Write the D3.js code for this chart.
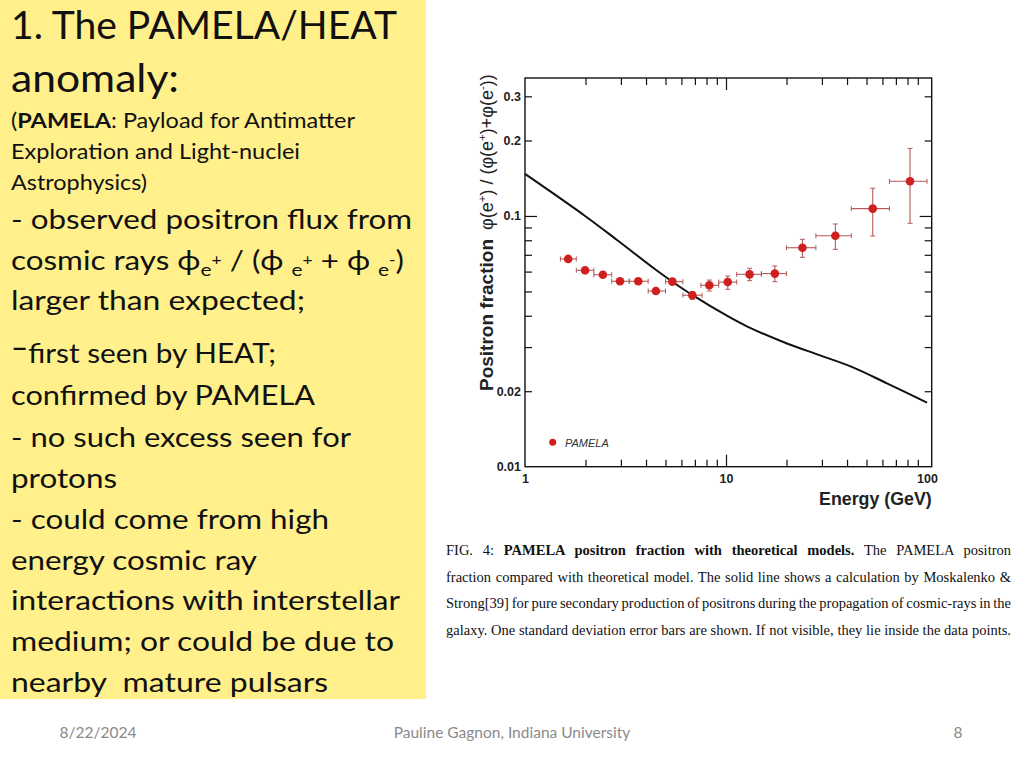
<!DOCTYPE html>
<html>
<head>
<meta charset="utf-8">
<title>PAMELA positron fraction</title>
<script src="https://d3js.org/d3.v7.min.js"></script>
<style>
  body { margin: 0; background: #fff; }
</style>
</head>
<body>
<div id="chart"></div>
<script>
// PAMELA positron fraction
var energy   = [1.64, 1.99, 2.44, 2.97, 3.66, 4.48, 5.41, 6.80, 8.26, 10.2, 13.1, 17.5, 24.0, 35.0, 53.7, 82.3];
var binLow   = [1.5, 1.8, 2.2, 2.7, 3.3, 4.1, 5.0, 6.1, 7.5, 9.2, 11.3, 15.0, 20.0, 28.0, 42.0, 65.0];
var binHigh  = [1.8, 2.2, 2.7, 3.3, 4.1, 5.0, 6.1, 7.6, 9.2, 11.3, 15.0, 20.0, 28.0, 42.0, 65.0, 100];
var fraction = [0.0674, 0.0607, 0.0583, 0.0549, 0.0549, 0.0502, 0.0547, 0.0483, 0.0529, 0.0545, 0.0585, 0.0589, 0.0747, 0.0834, 0.107, 0.1375];
var fracLow  = [0.0660, 0.0594, 0.0570, 0.0537, 0.0537, 0.0490, 0.0533, 0.0465, 0.0502, 0.0510, 0.0552, 0.0547, 0.0684, 0.0736, 0.0832, 0.0935];
var fracHigh = [0.0689, 0.0621, 0.0597, 0.0562, 0.0562, 0.0515, 0.0561, 0.0499, 0.0555, 0.0576, 0.0619, 0.0632, 0.0807, 0.0929, 0.129, 0.186];

// Moskalenko & Strong secondary production curve
var modelE    = [1, 1.99, 2.87, 4.44, 5.39, 6.85, 10.1, 12.7, 20.1, 29.4, 42.8, 63.2, 100];
var modelFrac = [0.1471, 0.1000, 0.0802, 0.0613, 0.0548, 0.0482, 0.0400, 0.0363, 0.0310, 0.0278, 0.0249, 0.0215, 0.0180];

var xMajor = [1, 10, 100];
var xMinor = [2, 3, 4, 5, 6, 7, 8, 9, 20, 30, 40, 50, 60, 70, 80, 90];
var yLabels = [0.01, 0.02, 0.1, 0.2, 0.3];
var yMinor = [0.02, 0.03, 0.04, 0.05, 0.06, 0.07, 0.08, 0.09, 0.2, 0.3];

var width = 1024, height = 768;

var svg = d3.select("#chart")
  .append("svg")
    .attr("width", width)
    .attr("height", height)
    .style("font-family", "'Liberation Sans', Arial, sans-serif");

// ---- left yellow text panel ----
svg.append("rect")
  .attr("x", 0).attr("y", 0)
  .attr("width", 426).attr("height", 699)
  .attr("fill", "#fff08c");

var panelFont = "Lato, 'Open Sans', sans-serif";

var lines = [
  { t: "1. The PAMELA/HEAT", y: 39, size: 38, w: 386 },
  { t: "anomaly:", y: 92, size: 38, w: 168 },
  { t: "Exploration and Light-nuclei", y: 159, size: 21, w: 289 },
  { t: "Astrophysics)", y: 190, size: 21, w: 136 },
  { t: "- observed positron flux from", y: 229, size: 27, w: 401 },
  { t: "larger than expected;", y: 310, size: 27, w: 294 },
  { t: "confirmed by PAMELA", y: 405, size: 27, w: 304 },
  { t: "- no such excess seen for", y: 447, size: 27, w: 340 },
  { t: "protons", y: 488, size: 27, w: 106 },
  { t: "- could come from high", y: 529, size: 27, w: 318 },
  { t: "energy cosmic ray", y: 570, size: 27, w: 246 },
  { t: "interactions with interstellar", y: 610, size: 27, w: 389 },
  { t: "medium; or could be due to", y: 651, size: 27, w: 383 },
  { t: "nearby  mature pulsars", y: 692, size: 27, w: 317 }
];

var panel = svg.append("g").style("font-family", panelFont).attr("fill", "#111");

panel.selectAll("text.line")
  .data(lines)
  .enter()
  .append("text")
    .attr("class", "line")
    .attr("x", 11)
    .attr("y", function(d) { return d.y; })
    .style("font-size", function(d) { return d.size + "px"; })
    .style("white-space", "pre")
    .attr("textLength", function(d) { return d.w; })
    .attr("lengthAdjust", "spacingAndGlyphs")
    .text(function(d) { return d.t; });

// (PAMELA: ...) line with bold acronym
var l3 = panel.append("text")
  .attr("x", 11).attr("y", 128)
  .style("font-size", "21px")
  .attr("textLength", 344)
  .attr("lengthAdjust", "spacingAndGlyphs");
l3.append("tspan").text("(");
l3.append("tspan").style("font-weight", "bold").text("PAMELA");
l3.append("tspan").text(": Payload for Antimatter");

// cosmic rays phi line with sub/superscripts
var l7 = panel.append("text")
  .attr("x", 11).attr("y", 270)
  .style("font-size", "27px")
  .style("white-space", "pre")
  .attr("textLength", 393)
  .attr("lengthAdjust", "spacingAndGlyphs");
var l7parts = [
  { t: "cosmic rays \u03d5", dy: 0 },
  { t: "e", dy: 6, s: 18 }, { t: "+", dy: -11, s: 15 },
  { t: " / (\u03d5 ", dy: 5 },
  { t: "e", dy: 6, s: 18 }, { t: "+", dy: -11, s: 15 },
  { t: " + \u03d5 ", dy: 5 },
  { t: "e", dy: 6, s: 18 }, { t: "-", dy: -11, s: 15 },
  { t: ")", dy: 5 }
];
l7parts.forEach(function(p) {
  var ts = l7.append("tspan").attr("dy", p.dy).text(p.t);
  if (p.s) ts.style("font-size", p.s + "px");
});

// -first seen by HEAT; (raised dash)
var l9 = panel.append("text")
  .attr("x", 11).attr("y", 363)
  .style("font-size", "27px")
  .attr("textLength", 265)
  .attr("lengthAdjust", "spacingAndGlyphs");
l9.append("tspan").attr("dy", -6).style("font-weight", "bold").text("\u2013");
l9.append("tspan").attr("dy", 6).text("first seen by HEAT;");

// ---- plot ----
var plotL = 525, plotR = 931.7, plotT = 78, plotB = 466.7;

var x = d3.scaleLog().domain([1, 105.5]).range([plotL, plotR]);
var y = d3.scaleLog().domain([0.01, 0.355]).range([plotB, plotT]);

var axisColor = "#111";

function tickAxis(axis, tr, size, vals) {
  var g = svg.append("g")
    .attr("transform", tr)
    .call(axis.tickValues(vals).tickSize(size).tickFormat(""));
  g.select(".domain").remove();
  g.selectAll("line").attr("stroke", axisColor).attr("stroke-width", 1.2);
  return g;
}

// inward ticks on all four sides
tickAxis(d3.axisBottom(x), "translate(0," + plotB + ")", -7, xMinor);
tickAxis(d3.axisBottom(x), "translate(0," + plotB + ")", -12, [10]);
tickAxis(d3.axisTop(x), "translate(0," + plotT + ")", -7, xMinor);
tickAxis(d3.axisTop(x), "translate(0," + plotT + ")", -12, [10]);
tickAxis(d3.axisLeft(y), "translate(" + plotL + ",0)", -7, yMinor);
tickAxis(d3.axisLeft(y), "translate(" + plotL + ",0)", -12, [0.1]);
tickAxis(d3.axisRight(y), "translate(" + plotR + ",0)", -7, yMinor);
tickAxis(d3.axisRight(y), "translate(" + plotR + ",0)", -12, [0.1]);

// tick labels
var xLab = svg.append("g")
  .attr("transform", "translate(0," + plotB + ")")
  .call(d3.axisBottom(x).tickValues(xMajor).tickSize(0).tickPadding(7)
        .tickFormat(d3.format("d")));
xLab.select(".domain").remove();
xLab.selectAll("text")
  .style("font-family", "'Liberation Sans', Arial, sans-serif")
  .style("font-size", "12.5px").style("font-weight", "bold").attr("fill", "#222");

var yLab = svg.append("g")
  .attr("transform", "translate(" + plotL + ",0)")
  .call(d3.axisLeft(y).tickValues(yLabels).tickSize(0).tickPadding(4)
        .tickFormat(function(d) { return String(d); }));
yLab.select(".domain").remove();
yLab.selectAll("text")
  .style("font-family", "'Liberation Sans', Arial, sans-serif")
  .style("font-size", "12.5px").style("font-weight", "bold").attr("fill", "#222");

// frame
svg.append("rect")
  .attr("x", plotL).attr("y", plotT)
  .attr("width", plotR - plotL).attr("height", plotB - plotT)
  .attr("fill", "none").attr("stroke", axisColor).attr("stroke-width", 1.4);

// model curve
var line = d3.line()
  .x(function(d, i) { return x(modelE[i]); })
  .y(function(d) { return y(d); })
  .curve(d3.curveCatmullRom.alpha(0.5));

svg.append("path")
  .datum(modelFrac)
  .attr("d", line)
  .attr("fill", "none")
  .attr("stroke", "#111")
  .attr("stroke-width", 2);

// error bars
var errColor = "#b35a5a";
var pts = svg.append("g").selectAll("g")
  .data(energy)
  .enter()
  .append("g");

pts.append("line")
  .attr("x1", function(d, i) { return x(binLow[i]); })
  .attr("x2", function(d, i) { return x(binHigh[i]); })
  .attr("y1", function(d, i) { return y(fraction[i]); })
  .attr("y2", function(d, i) { return y(fraction[i]); })
  .attr("stroke", errColor).attr("stroke-width", 1.1);

pts.append("line")
  .attr("x1", function(d) { return x(d); })
  .attr("x2", function(d) { return x(d); })
  .attr("y1", function(d, i) { return y(fracLow[i]); })
  .attr("y2", function(d, i) { return y(fracHigh[i]); })
  .attr("stroke", errColor).attr("stroke-width", 1.1);

// small end caps
[binLow, binHigh].forEach(function(arr) {
  pts.append("line")
    .attr("x1", function(d, i) { return x(arr[i]); })
    .attr("x2", function(d, i) { return x(arr[i]); })
    .attr("y1", function(d, i) { return y(fraction[i]) - 2.5; })
    .attr("y2", function(d, i) { return y(fraction[i]) + 2.5; })
    .attr("stroke", errColor).attr("stroke-width", 1);
});
[fracLow, fracHigh].forEach(function(arr) {
  pts.append("line")
    .attr("x1", function(d) { return x(d) - 2.5; })
    .attr("x2", function(d) { return x(d) + 2.5; })
    .attr("y1", function(d, i) { return y(arr[i]); })
    .attr("y2", function(d, i) { return y(arr[i]); })
    .attr("stroke", errColor).attr("stroke-width", 1);
});

pts.append("circle")
  .attr("cx", function(d) { return x(d); })
  .attr("cy", function(d, i) { return y(fraction[i]); })
  .attr("r", 4.3)
  .attr("fill", "#d01f1f");

// legend
svg.append("circle")
  .attr("cx", plotL + 27.7).attr("cy", plotB - 24.4)
  .attr("r", 3.5).attr("fill", "#d01f1f");
svg.append("text")
  .attr("x", plotL + 40).attr("y", plotB - 20)
  .style("font-size", "11px").style("font-style", "italic")
  .attr("fill", "#333")
  .text("PAMELA");

// axis titles
svg.append("text")
  .attr("x", plotR).attr("y", 505)
  .attr("text-anchor", "end")
  .style("font-size", "17.8px").style("font-weight", "bold")
  .attr("fill", "#222")
  .text("Energy (GeV)");

var yt = svg.append("text")
  .attr("transform", "translate(493,391) rotate(-90)")
  .style("font-size", "18px")
  .attr("fill", "#222");
yt.append("tspan").style("font-weight", "bold").style("font-size", "19px").text("Positron fraction");
yt.append("tspan").attr("dx", 9).text("\u03c6(e");
yt.append("tspan").attr("dy", -7).style("font-size", "11.5px").text("+");
yt.append("tspan").attr("dy", 7).text(") / (\u03c6(e");
yt.append("tspan").attr("dy", -7).style("font-size", "11.5px").text("+");
yt.append("tspan").attr("dy", 7).text(")+\u03c6(e");
yt.append("tspan").attr("dy", -7).style("font-size", "11.5px").text("-");
yt.append("tspan").attr("dy", 7).text("))");

// ---- caption (justified) ----
var capLines = [
  [["FIG. 4: ", ""], ["PAMELA positron fraction with theoretical models.", "bold"], [" The PAMELA positron", ""]],
  [["fraction compared with theoretical model. The solid line shows a calculation by Moskalenko &", ""]],
  [["Strong[39] for pure secondary production of positrons during the propagation of cosmic-rays in the", ""]],
  [["galaxy. One standard deviation error bars are shown. If not visible, they lie inside the data points.", ""]]
];

var cap = svg.append("g")
  .style("font-family", "'Liberation Serif', 'Times New Roman', serif")
  .style("font-size", "14.5px")
  .attr("fill", "#111");

capLines.forEach(function(parts, i) {
  var t = cap.append("text").attr("x", 446).attr("y", 555 + i * 26.7);
  var full = "";
  parts.forEach(function(p) {
    t.append("tspan").style("font-weight", p[1] || null).text(p[0]);
    full += p[0];
  });
  var natural = t.node().getComputedTextLength();
  var spaces = full.split(" ").length - 1;
  t.style("word-spacing", ((565 - natural) / spaces) + "px");
});

// ---- footer ----
var foot = svg.append("g")
  .style("font-family", panelFont)
  .style("font-size", "15.5px")
  .attr("fill", "#8a8a8a");
foot.append("text").attr("x", 98).attr("y", 738).attr("text-anchor", "middle").text("8/22/2024");
foot.append("text").attr("x", 512).attr("y", 738).attr("text-anchor", "middle").text("Pauline Gagnon, Indiana University");
foot.append("text").attr("x", 958).attr("y", 738).attr("text-anchor", "middle").text("8");
</script>
</body>
</html>
